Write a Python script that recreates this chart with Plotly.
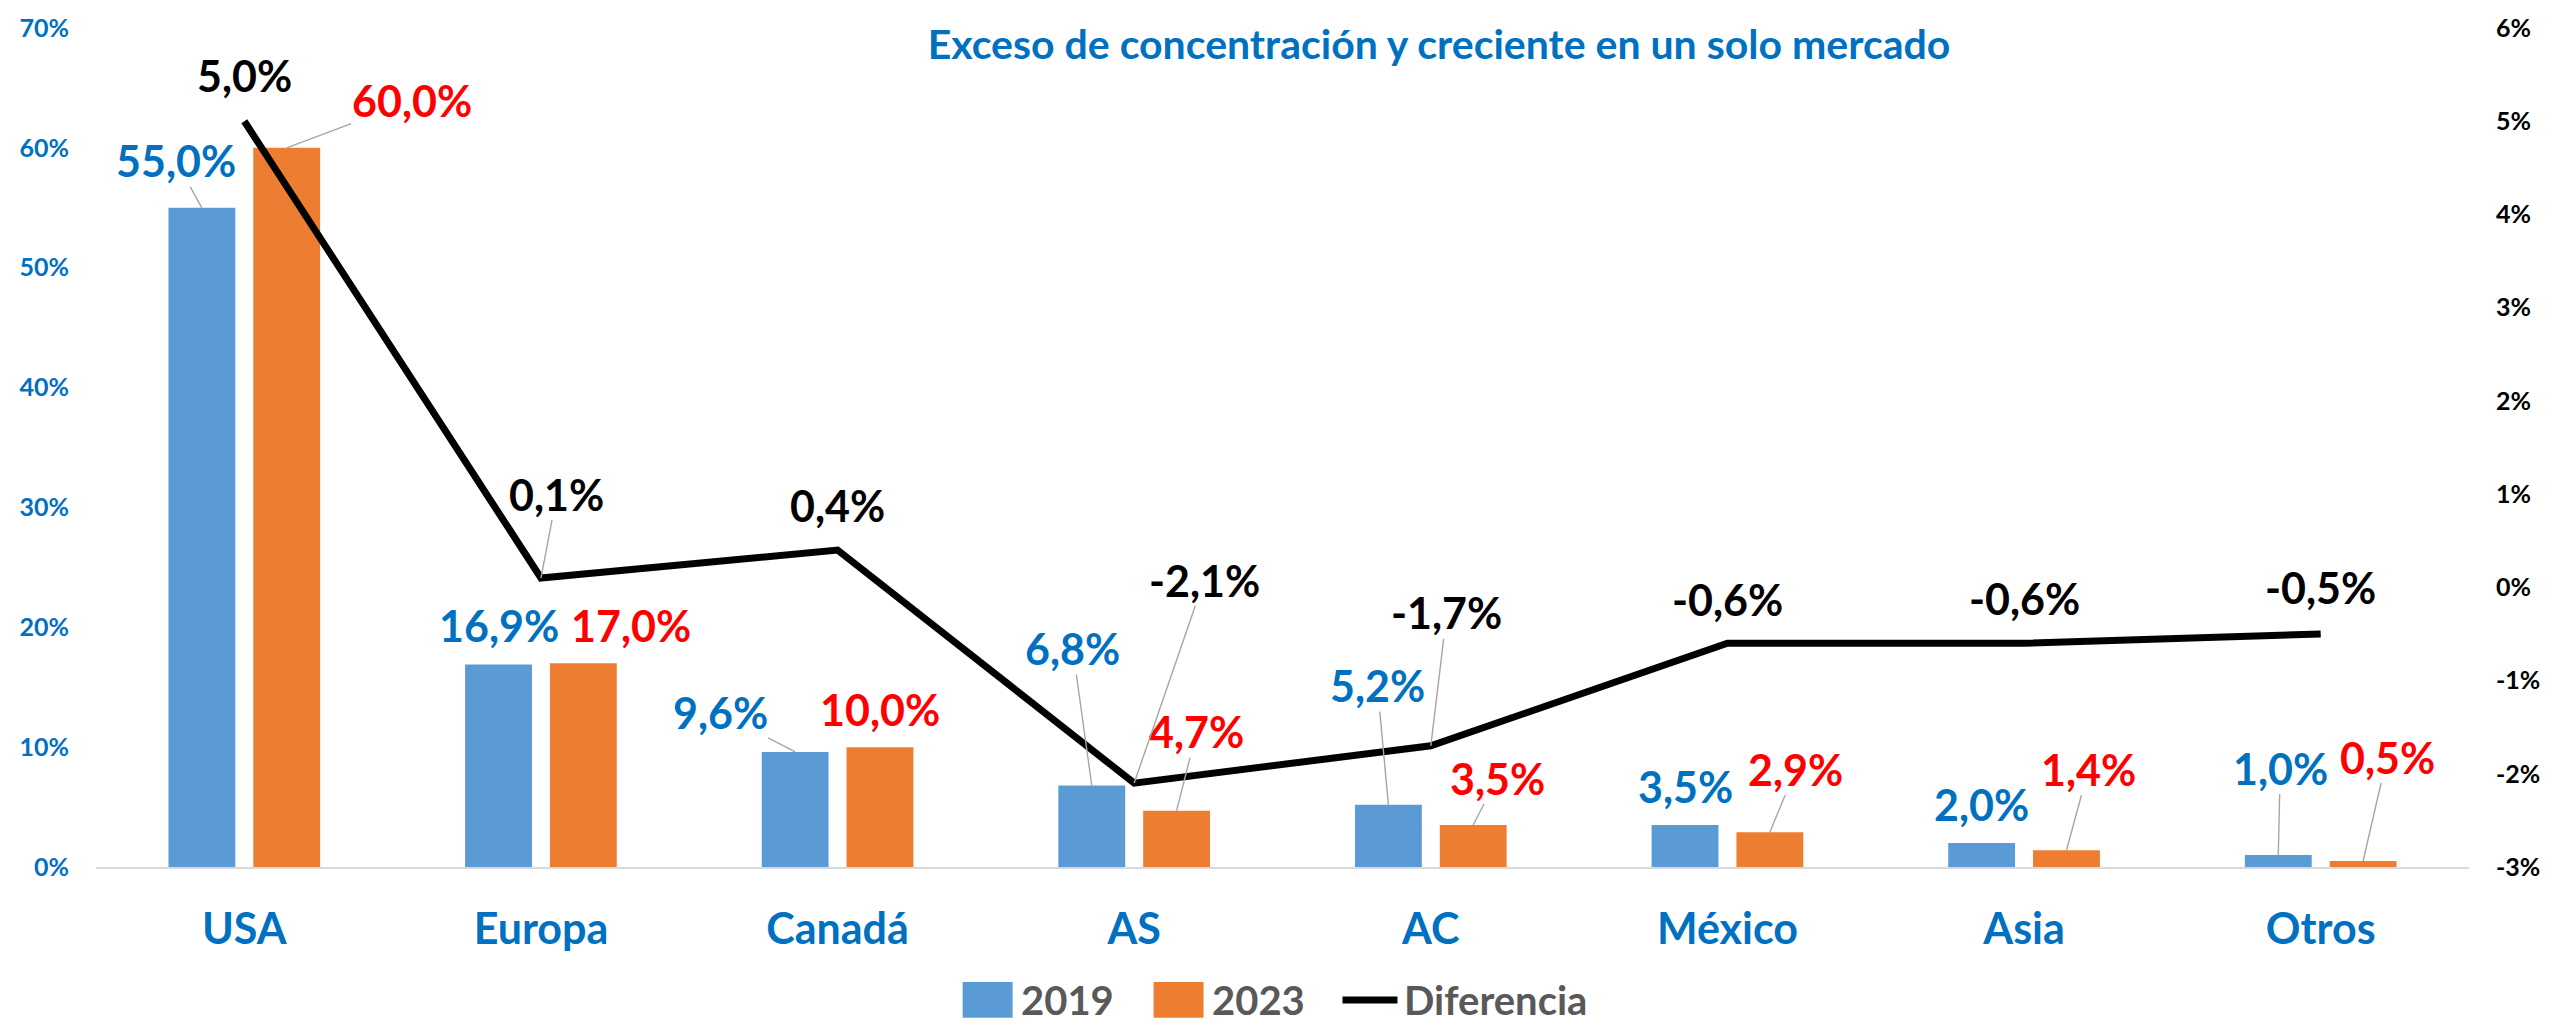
import plotly.graph_objects as go

# ---------------- data ----------------
categories = ["USA", "Europa", "Canadá", "AS", "AC", "México", "Asia", "Otros"]
v2019 = [55.0, 16.9, 9.6, 6.8, 5.2, 3.5, 2.0, 1.0]
v2023 = [60.0, 17.0, 10.0, 4.7, 3.5, 2.9, 1.4, 0.5]
diferencia = [5.0, 0.1, 0.4, -2.1, -1.7, -0.6, -0.6, -0.5]
left_ticks = [0, 10, 20, 30, 40, 50, 60, 70]
right_ticks = [-3, -2, -1, 0, 1, 2, 3, 4, 5, 6]
title_text = "Exceso de concentración y creciente en un solo mercado"
legend_names = ["2019", "2023", "Diferencia"]

# ---------------- style ----------------
W, H = 2552, 1029
ML, MR, MT, MB = 96, 82, 21, 162
FONT = "Lato"
BLUE_BAR = "#5B9BD5"
ORANGE_BAR = "#ED7D31"
BLUE_TXT = "#0070C0"
RED_TXT = "#FF0000"
LEADER = "#A6A6A6"
BARGAP = 0.428
BARGROUPGAP = 0.212
half_off = (1 - BARGAP) / 4  # center offset of each bar within the group (category units)

# label offsets in pixels (dx, dy, leader line)
off2019 = [(-26, -47, True), (0, -39, False), (-75, -39, True), (-19, -137, True),
           (-11, -119, True), (0, -39, False), (0, -39, False), (2, -87, True)]
off2023 = [(125, -47, True), (48, -38, False), (0, -38, False), (20, -79, True),
           (24, -47, True), (26, -63, True), (22, -81, True), (24, -104, True)]
offdif = [(0, -46, False), (16, -84, True), (0, -45, False), (70, -203, True),
          (16, -133, True), (0, -44, False), (0, -45, False), (0, -46, False)]

LABEL_SIZE = 43


def fmt(v):
    return f"{v:.1f}".replace(".", ",") + "%"


xs = list(range(len(categories)))

fig = go.Figure()
fig.add_trace(go.Bar(x=xs, y=v2019, name=legend_names[0], marker_color=BLUE_BAR,
                     marker_line_width=0, showlegend=False))
fig.add_trace(go.Bar(x=xs, y=v2023, name=legend_names[1], marker_color=ORANGE_BAR,
                     marker_line_width=0, showlegend=False))
fig.add_trace(go.Scatter(x=xs, y=diferencia, name=legend_names[2], mode="lines",
                         line=dict(color="black", width=7), yaxis="y2", showlegend=False))

annotations = []


def add_label(x, y, text, color, off, yref):
    dx, dy, leader = off
    if leader:
        annotations.append(dict(x=x, y=y, xref="x", yref=yref, text=text, showarrow=True,
                                arrowhead=0, arrowwidth=1.4, arrowcolor=LEADER, ax=dx, ay=dy,
                                standoff=0, borderpad=0,
                                font=dict(family=FONT, size=LABEL_SIZE, color=color, weight=700)))
    else:
        annotations.append(dict(x=x, y=y, xref="x", yref=yref, text=text, showarrow=False,
                                xshift=dx, yshift=-dy, xanchor="center", yanchor="middle",
                                font=dict(family=FONT, size=LABEL_SIZE, color=color, weight=700)))


for i in xs:
    add_label(i - half_off, v2019[i], fmt(v2019[i]), BLUE_TXT, off2019[i], "y")
    add_label(i + half_off, v2023[i], fmt(v2023[i]), RED_TXT, off2023[i], "y")
    add_label(i, diferencia[i], fmt(diferencia[i]), "black", offdif[i], "y2")

# ---------------- manual legend (pixel positions converted to paper) ----------------
PW = W - ML - MR
PH = H - MT - MB


def px(xp):
    return (xp - ML) / PW


def py(yp):
    return (H - MB - yp) / PH


shapes = []
leg_y = 1001
sq_h = 36
shapes.append(dict(type="rect", xref="paper", yref="paper", x0=px(963), x1=px(1013),
                   y0=py(leg_y + sq_h / 2), y1=py(leg_y - sq_h / 2), fillcolor=BLUE_BAR, line_width=0))
shapes.append(dict(type="rect", xref="paper", yref="paper", x0=px(1154), x1=px(1204),
                   y0=py(leg_y + sq_h / 2), y1=py(leg_y - sq_h / 2), fillcolor=ORANGE_BAR, line_width=0))
shapes.append(dict(type="line", xref="paper", yref="paper", x0=px(1343), x1=px(1398),
                   y0=py(leg_y), y1=py(leg_y), line=dict(color="black", width=7)))
leg_font = dict(family=FONT, size=40, color="#595959", weight=700)
for xpos, name in zip([1020, 1211, 1404], legend_names):
    annotations.append(dict(x=px(xpos), y=py(leg_y), xref="paper", yref="paper", text=name,
                            showarrow=False, xanchor="left", yanchor="middle", borderpad=0,
                            font=leg_font))

fig.update_layout(
    width=W, height=H,
    margin=dict(l=ML, r=MR, t=MT, b=MB, pad=0),
    paper_bgcolor="white", plot_bgcolor="white",
    barmode="group", bargap=BARGAP, bargroupgap=BARGROUPGAP,
    title=dict(text=title_text, x=1439 / W, xanchor="center", y=1 - 45 / H, yanchor="middle",
               font=dict(family=FONT, size=41, color=BLUE_TXT, weight=700)),
    xaxis=dict(range=[-0.5, len(categories) - 0.5], tickvals=xs, ticktext=categories,
               showgrid=False, zeroline=False, showline=True, linecolor="#D9D9D9", linewidth=2,
               ticks="", ticklabelstandoff=23,
               tickfont=dict(family=FONT, size=43, color=BLUE_TXT, weight=700)),
    yaxis=dict(range=[0, 70], tickvals=left_ticks, ticktext=[f"{t}%" for t in left_ticks],
               showgrid=False, zeroline=False, showline=False, ticks="", ticklabelstandoff=26,
               tickfont=dict(family=FONT, size=25, color=BLUE_TXT, weight=700)),
    yaxis2=dict(range=[-3, 6], tickvals=right_ticks, ticktext=[f"{t}%" for t in right_ticks],
                overlaying="y", side="right", showgrid=False, zeroline=False, showline=False,
                ticks="", ticklabelstandoff=26,
                tickfont=dict(family=FONT, size=25, color="black", weight=700)),
    annotations=annotations,
    shapes=shapes,
    showlegend=False,
)

fig.write_html("out.html", config={"displayModeBar": False},
               post_script="document.body.style.margin='0';document.body.style.overflow='hidden';")
